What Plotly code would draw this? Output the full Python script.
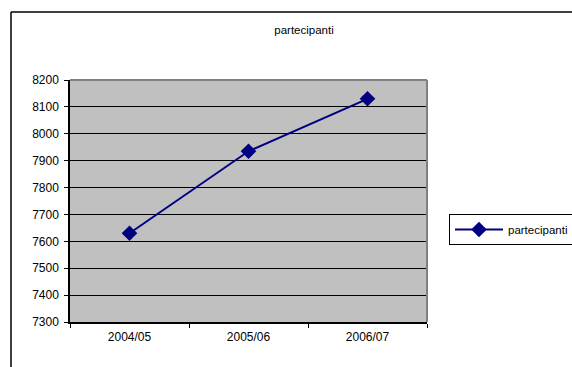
import plotly.graph_objects as go

# Academic years and number of participants
seasons = ["2004/05", "2005/06", "2006/07"]
partecipanti = [7630, 7935, 8130]
series_name = "partecipanti"
y_ticks = [7300, 7400, 7500, 7600, 7700, 7800, 7900, 8000, 8100, 8200]

W, H = 572, 367
L, R, T, B = 70, 145, 80, 45
pw, ph = W - L - R, H - T - B

def px_x(x):
    return (x - L) / pw

def px_y(y):
    return (H - B - y) / ph

font = dict(family="Liberation Sans, Arial, sans-serif", size=11.5, color="black")
tick_font = dict(family="Liberation Sans, Arial, sans-serif", size=12, color="black")

fig = go.Figure()
fig.add_trace(go.Scatter(
    x=seasons, y=partecipanti, name=series_name,
    mode="lines+markers",
    line=dict(color="#000080", width=2),
    marker=dict(symbol="diamond", size=12, color="#000080"),
))

shapes = [
    # outer chart frame (left and top edges)
    dict(type="line", xref="paper", yref="paper", x0=px_x(11), x1=px_x(11),
         y0=px_y(H + 5), y1=px_y(12), line=dict(color="black", width=1.5)),
    dict(type="line", xref="paper", yref="paper", x0=px_x(11), x1=px_x(W + 5),
         y0=px_y(12), y1=px_y(12), line=dict(color="black", width=1.5)),
    # plot area border on top and right
    dict(type="line", xref="x domain", yref="y domain", x0=0, x1=1, y0=1, y1=1,
         line=dict(color="#808080", width=2), layer="above"),
    dict(type="line", xref="x domain", yref="y domain", x0=1, x1=1, y0=0, y1=1,
         line=dict(color="#808080", width=2), layer="above"),
]

fig.update_layout(
    width=W, height=H,
    margin=dict(l=L, r=R, t=T, b=B, autoexpand=False),
    paper_bgcolor="white",
    plot_bgcolor="#C0C0C0",
    font=font,
    title=dict(text="partecipanti", x=304 / W, xanchor="center",
               y=1 - 30 / H, yanchor="middle", font=font),
    showlegend=True,
    legend=dict(
        x=px_x(449), xanchor="left", y=px_y(229.5), yanchor="middle",
        bgcolor="white", bordercolor="black", borderwidth=1,
        font=font, itemwidth=48, tracegroupgap=0,
    ),
    shapes=shapes,
)

fig.update_xaxes(
    type="category", range=[-0.5, 2.5],
    showline=True, linecolor="black", linewidth=1.5,
    ticks="outside", tickson="boundaries", ticklen=4, tickcolor="black",
    showgrid=False, zeroline=False, tickfont=tick_font, ticklabelstandoff=3,
)
fig.update_yaxes(
    range=[7300, 8200], tickvals=y_ticks,
    showline=True, linecolor="black", linewidth=1.5,
    ticks="outside", ticklen=4, tickcolor="black",
    showgrid=True, gridcolor="black", gridwidth=1, zeroline=False,
    tickfont=tick_font, ticklabelstandoff=3,
)

fig.write_html("out.html")
